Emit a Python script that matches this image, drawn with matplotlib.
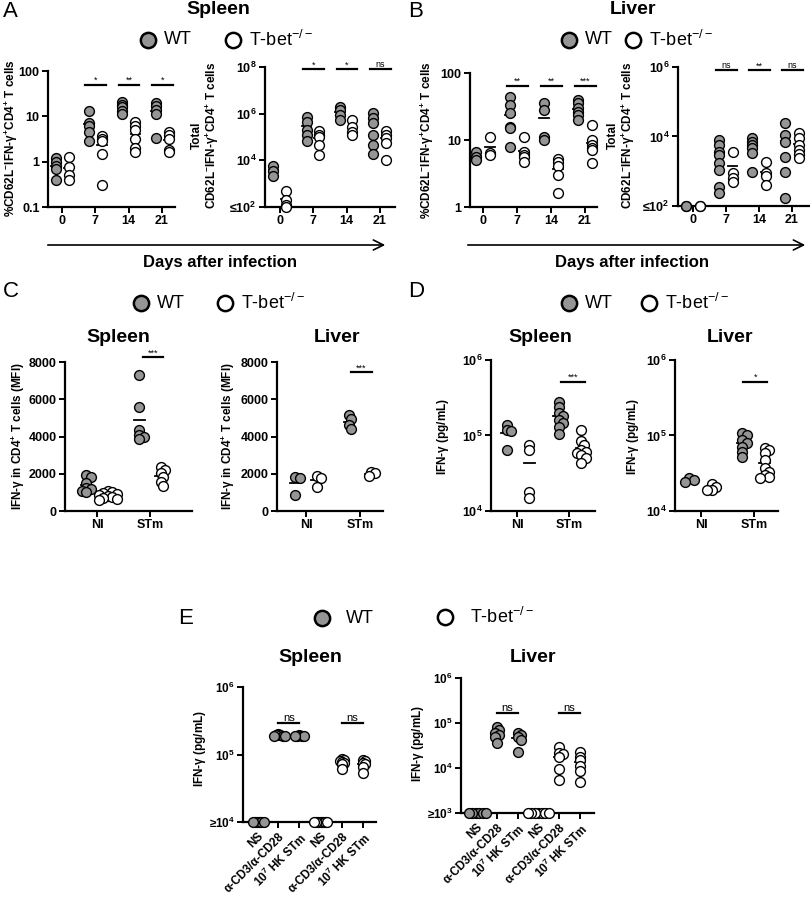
import numpy as np
import matplotlib.pyplot as plt
from matplotlib.ticker import FixedLocator, FixedFormatter, NullLocator
from matplotlib.patches import FancyArrowPatch

plt.rcParams['font.family'] = ['Liberation Sans', 'DejaVu Sans']
plt.rcParams['mathtext.default'] = 'regular'

W, H = 810, 905
GRAY = '#959595'
MS = 50  # marker area

# ---------------- data ----------------
days = ['0', '7', '14', '21']
# A: spleen
a_pct_wt = [[1.2, 1.0, 0.8, 0.7, 0.4], [13, 7.3, 6.0, 4.6, 2.8], [21, 18, 16, 13, 11], [20, 17, 14, 11, 3.4]]
a_pct_ko = [[1.3, 0.75, 0.5, 0.4], [3.6, 3.2, 2.8, 1.5, 0.31], [7.4, 6.0, 4.9, 3.1, 2.0, 1.6], [4.6, 3.8, 3.1, 1.85, 1.6]]
a_tot_wt = [[6000, 3500, 2200], [7.2e5, 4.4e5, 2e5, 1.2e5, 6.8e4], [2e6, 1.4e6, 9e5, 5.4e5],
            [1.07e6, 6.6e5, 4e5, 1.2e5, 4.6e4, 1.9e4]]
a_tot_ko = [[500, 200, 120, 100], [1.8e5, 1.2e5, 1e5, 4.6e4, 1.7e4], [5.4e5, 2.7e5, 1.6e5, 1.2e5],
            [1.8e5, 1.2e5, 9e4, 5.6e4, 1e4]]
a_pct_sig = ['', '*', '**', '*']
a_tot_sig = ['', '*', '*', 'ns']
# B: liver
b_pct_wt = [[6.6, 5.6, 5.0], [44, 33, 25, 15.6, 15, 7.9], [36, 28, 11, 10], [39, 36, 30, 26, 24, 20]]
b_pct_ko = [[11, 6.4, 6.0], [11, 6.6, 6.0, 5.6, 4.7], [5.2, 4.7, 4.1, 3.0, 1.6], [17, 10, 8.4, 7.6, 7.1, 4.5]]
b_tot_wt = [[100, 100], [7900, 5600, 3600, 2900, 1700, 1100, 350, 240], [9000, 6900, 5600, 4600, 3300, 950],
            [2.4e4, 1.1e4, 6900, 2600, 950, 170]]
b_tot_ko = [[100, 100], [3600, 890, 640, 490], [1800, 890, 730, 400], [1.26e4, 9000, 5600, 4100, 3100, 2400]]
b_pct_sig = ['', '**', '**', '***']
b_tot_sig = ['', 'ns', '**', 'ns']
# C: MFI
conds = ['NI', 'STm']
c_spl_wt = [[1950, 1800, 1500, 1250, 1200, 1100, 1000], [7300, 5580, 4350, 4100, 4000, 3850]]
c_spl_ko = [[1050, 1000, 950, 900, 850, 800, 750, 700, 650, 600], [2360, 2200, 2040, 1830, 1560, 1340]]
c_liv_wt = [[1830, 1770, 860], [5150, 4940, 4620, 4400]]
c_liv_ko = [[1880, 1770, 1290], [2090, 2040, 1880]]
# D: IFN-g secretion
d_spl_wt = [[1.38e5, 1.18e5, 1.15e5, 6.4e4], [2.8e5, 2.4e5, 2.0e5, 1.8e5, 1.6e5, 1.45e5, 1.3e5, 1.05e5]]
d_spl_ko = [[7.5e4, 6.4e4, 1.8e4, 1.5e4], [1.18e5, 8.5e4, 7.5e4, 6.5e4, 6.0e4, 5.8e4, 5.5e4, 5.0e4, 4.3e4]]
d_liv_wt = [[2.7e4, 2.6e4, 2.4e4], [1.08e5, 1.0e5, 8.7e4, 8.0e4, 7.1e4, 6.1e4, 5.2e4]]
d_liv_ko = [[2.3e4, 2.1e4, 1.9e4, 1.9e4], [6.9e4, 6.5e4, 5.9e4, 4.7e4, 3.7e4, 3.3e4, 3.0e4, 2.8e4, 2.7e4]]
# E: restimulation (first three columns WT, last three T-bet-/-)
e_labels = ['NS', 'α-CD3/α-CD28', '10$^{7}$ HK STm', 'NS', 'α-CD3/α-CD28', '10$^{7}$ HK STm']
e_spl_wt = [[1e4, 1e4, 1e4, 1e4, 1e4, 1e4], [2.0e5, 1.95e5, 1.95e5, 1.9e5, 1.9e5, 1.9e5],
            [1.95e5, 1.9e5, 1.9e5, 1.9e5, 1.85e5]]
e_spl_ko = [[1e4, 1e4, 1e4, 1e4, 1e4, 1e4, 1e4], [8.5e4, 8.2e4, 8e4, 7.8e4, 7.5e4, 7.2e4, 6.2e4],
            [8.3e4, 8e4, 7.6e4, 7.3e4, 6.5e4, 5.3e4]]
e_liv_wt = [[1e3, 1e3, 1e3, 1e3, 1e3, 1e3], [8.1e4, 6.9e4, 6e4, 5.4e4, 4.9e4, 3.6e4],
            [6e4, 5.5e4, 4.9e4, 4.2e4, 2.3e4]]
e_liv_ko = [[1e3, 1e3, 1e3, 1e3, 1e3, 1e3, 1e3], [2.9e4, 2.2e4, 2e4, 1.8e4, 9.5e3, 5.4e3],
            [2.3e4, 1.8e4, 1.5e4, 1.1e4, 8.6e3, 4.9e3]]


fig = plt.figure(figsize=(W / 100, H / 100), dpi=100)
ov = fig.add_axes([0, 0, 1, 1])
ov.set_xlim(0, W)
ov.set_ylim(H, 0)
ov.axis('off')


def make_ax(box, p0, sp, ylim, log, yticks, ylabels, xlabels, fs=9):
    l, t, r, b = box
    ax = fig.add_axes([l / W, 1 - b / H, (r - l) / W, (b - t) / H])
    ax.set_xlim((l - p0) / sp, (r - p0) / sp)
    if log:
        ax.set_yscale('log')
    ax.set_ylim(*ylim)
    ax.yaxis.set_major_locator(FixedLocator(yticks))
    ax.yaxis.set_major_formatter(FixedFormatter(ylabels))
    ax.yaxis.set_minor_locator(NullLocator())
    ax.set_xticks(range(len(xlabels)))
    ax.set_xticklabels(xlabels)
    for s in ['top', 'right']:
        ax.spines[s].set_visible(False)
    for s in ['left', 'bottom']:
        ax.spines[s].set_linewidth(1.6)
    ax.tick_params(width=1.4, length=4, labelsize=fs, pad=2)
    for tl in ax.get_xticklabels() + ax.get_yticklabels():
        tl.set_fontweight('bold')
    ax.patch.set_alpha(0)
    ax.info = dict(box=box, sp=sp, ylim=ylim, log=log)
    return ax


def swarm(ax, vals, d):
    # small horizontal offsets so that points closer than d pixels spread out
    if d == 0:
        return np.zeros(len(vals))
    l, t, r, b = ax.info['box']
    lo, hi = ax.info['ylim']
    if ax.info['log']:
        y = (np.log10(vals) - np.log10(lo)) / (np.log10(hi) - np.log10(lo)) * (b - t)
    else:
        y = (vals - lo) / (hi - lo) * (b - t)
    cand = [0]
    for k in range(1, 30):
        cand += [k, -k]
    placed, offs = [], []
    for yi in y:
        for c in cand:
            xo = c * d * 0.5
            if all((xo - px) ** 2 + (yi - py) ** 2 >= d ** 2 for px, py in placed):
                break
        placed.append((xo, yi))
        offs.append(xo / ax.info['sp'])
    return np.array(offs)


def dots(ax, centers, data, color, d=0, half=0.14):
    for c, vals in zip(centers, data):
        vals = np.asarray(vals, float)
        offs = swarm(ax, vals, d)
        ax.scatter(c + offs, vals, s=MS, facecolor=color, edgecolor='black', lw=1.0, zorder=3, clip_on=False)
        m = vals.mean()
        ax.plot([c - half, c + half], [m, m], color='black', lw=1.3, zorder=2, clip_on=False)


def sig(ax, x0, x1, y, s, fs=6.5):
    ax.plot([x0, x1], [y, y], color='black', lw=1.6, clip_on=False)
    ax.text((x0 + x1) / 2, y, s, ha='center', va='bottom', fontsize=fs, clip_on=False)


def legend_row(y, x_wt, x_ko, fs=13, ms=11):
    ov.plot([x_wt], [y], 'o', ms=ms, mfc=GRAY, mec='black', mew=1.8)
    ov.text(x_wt + 16, y, 'WT', fontsize=fs, va='center')
    ov.plot([x_ko], [y], 'o', ms=ms, mfc='white', mec='black', mew=1.8)
    ov.text(x_ko + 16, y, 'T-bet$^{-/-}$', fontsize=fs, va='center')


def ylab(x, y, s, fs=8.5):
    ov.text(x, y, s, rotation=90, ha='center', va='center', fontsize=fs, fontweight='bold', linespacing=1.0)


pct_lab = '%CD62L$^{-}$IFN-$\\gamma^{+}$CD4$^{+}$ T cells'
tot_lab = 'Total\nCD62L$^{-}$IFN-$\\gamma^{+}$CD4$^{+}$ T cells'
x4 = np.arange(4)

# ---------------- A ----------------
ax = make_ax((48, 71, 175, 207), 62, 33.3, (0.1, 100), True, [0.1, 1, 10, 100], ['0.1', '1', '10', '100'], days)
dots(ax, x4 - 0.19, a_pct_wt, GRAY)
dots(ax, x4 + 0.2, a_pct_ko, 'white')
for i, s in enumerate(a_pct_sig):
    if s:
        sig(ax, i - 0.3, i + 0.32, 50, s)
ylab(11, 138, pct_lab)

ax = make_ax((265, 67, 395, 207), 280, 33.3, (1e2, 1e8), True, [1e2, 1e4, 1e6, 1e8],
             ['≤10$^{2}$', '10$^{4}$', '10$^{6}$', '10$^{8}$'], days)
dots(ax, x4 - 0.2, a_tot_wt, GRAY)
dots(ax, x4 + 0.17, a_tot_ko, 'white')
for i, s in enumerate(a_tot_sig):
    if s:
        sig(ax, i - 0.3, i + 0.32, 8e7, s)
ylab(206, 135, tot_lab)

# ---------------- B ----------------
ax = make_ax((470, 73, 597, 207), 483, 34, (1, 100), True, [1, 10, 100], ['1', '10', '100'], days)
dots(ax, x4 - 0.2, b_pct_wt, GRAY)
dots(ax, x4 + 0.2, b_pct_ko, 'white')
for i, s in enumerate(b_pct_sig):
    if s:
        sig(ax, i - 0.3, i + 0.32, 65, s)
ylab(427, 140, pct_lab)

ax = make_ax((678, 67, 810, 206), 693, 33, (1e2, 1e6), True, [1e2, 1e4, 1e6],
             ['≤10$^{2}$', '10$^{4}$', '10$^{6}$'], days)
dots(ax, x4 - 0.2, b_tot_wt, GRAY)
dots(ax, x4 + 0.2, b_tot_ko, 'white')
for i, s in enumerate(b_tot_sig):
    if s:
        sig(ax, i - 0.3, i + 0.32, 8e5, s)
ylab(622, 135, tot_lab)

# headers A/B
ov.text(3, 1, 'A', fontsize=16, va='top')
ov.text(408, 1, 'B', fontsize=16, va='top')
ov.text(218, 10, 'Spleen', fontsize=14, fontweight='bold', ha='center', va='center')
ov.text(633, 10, 'Liver', fontsize=14, fontweight='bold', ha='center', va='center')
legend_row(40, 148, 233)
legend_row(40, 569, 633)
for x0, x1, xc in [(45, 388, 220), (465, 808, 632)]:
    ov.add_patch(FancyArrowPatch((x0, 245), (x1, 245), arrowstyle='->', mutation_scale=18, lw=1.2, color='black'))
    ov.text(xc, 262, 'Days after infection', fontsize=12, fontweight='bold', ha='center', va='center')

# ---------------- C ----------------
x2 = np.arange(2)
mfi_ticks = [0, 2000, 4000, 6000, 8000]
ax = make_ax((65, 362, 192, 511), 97, 53, (0, 8000), False, mfi_ticks, [str(v) for v in mfi_ticks], conds)
dots(ax, x2 - 0.2, c_spl_wt, GRAY, d=4.5, half=0.1)
dots(ax, x2 + 0.2, c_spl_ko, 'white', d=4.5, half=0.1)
sig(ax, 1 - 0.14, 1 + 0.25, 8250, '***')
ylab(18, 436, 'IFN-$\\gamma$ in CD4$^{+}$ T cells (MFI)')

ax = make_ax((277, 362, 383, 511), 306, 54, (0, 8000), False, mfi_ticks, [str(v) for v in mfi_ticks], conds)
dots(ax, x2 - 0.2, c_liv_wt, GRAY, d=4.5, half=0.1)
dots(ax, x2 + 0.2, c_liv_ko, 'white', d=4.5, half=0.1)
sig(ax, 1 - 0.17, 1 + 0.22, 7450, '***')
ylab(228, 436, 'IFN-$\\gamma$ in CD4$^{+}$ T cells (MFI)')

ov.text(3, 281, 'C', fontsize=16, va='top')
legend_row(303, 141, 225)
ov.text(118, 337, 'Spleen', fontsize=14, fontweight='bold', ha='center', va='center')
ov.text(337, 337, 'Liver', fontsize=14, fontweight='bold', ha='center', va='center')

# ---------------- D ----------------
pg_ticks = [1e4, 1e5, 1e6]
pg_labs = ['10$^{4}$', '10$^{5}$', '10$^{6}$']
ax = make_ax((491, 360, 595, 511), 517, 52, (1e4, 1e6), True, pg_ticks, pg_labs, conds)
dots(ax, x2 - 0.2, d_spl_wt, GRAY, d=4.5, half=0.1)
dots(ax, x2 + 0.24, d_spl_ko, 'white', d=4.5, half=0.1)
sig(ax, 1 - 0.15, 1 + 0.3, 5.1e5, '***')
ylab(443, 436, 'IFN-$\\gamma$ (pg/mL)')

ax = make_ax((675, 360, 778, 511), 701, 53, (1e4, 1e6), True, pg_ticks, pg_labs, conds)
dots(ax, x2 - 0.22, d_liv_wt, GRAY, d=4.5, half=0.1)
dots(ax, x2 + 0.2, d_liv_ko, 'white', d=4.5, half=0.1)
sig(ax, 1 - 0.2, 1 + 0.25, 5.1e5, '*')
ylab(633, 436, 'IFN-$\\gamma$ (pg/mL)')

ov.text(408, 281, 'D', fontsize=16, va='top')
legend_row(303, 569, 649)
ov.text(540, 337, 'Spleen', fontsize=14, fontweight='bold', ha='center', va='center')
ov.text(730, 337, 'Liver', fontsize=14, fontweight='bold', ha='center', va='center')

# ---------------- E ----------------
x6 = np.arange(6)
ax = make_ax((243, 687, 376, 822), 257, 21.2, (1e4, 1e6), True, pg_ticks,
             ['≥10$^{4}$', '10$^{5}$', '10$^{6}$'], e_labels, fs=8.5)
dots(ax, x6[:3], e_spl_wt, GRAY, d=2.2, half=0.25)
dots(ax, x6[3:], e_spl_ko, 'white', d=2.2, half=0.25)
sig(ax, 1, 2, 2.9e5, 'ns', fs=8)
sig(ax, 4, 5, 2.9e5, 'ns', fs=8)
ylab(200, 748, 'IFN-$\\gamma$ (pg/mL)')

ax = make_ax((461, 678, 594, 813), 476, 20.8, (1e3, 1e6), True, [1e3, 1e4, 1e5, 1e6],
             ['≥10$^{3}$', '10$^{4}$', '10$^{5}$', '10$^{6}$'], e_labels, fs=8.5)
dots(ax, x6[:3], e_liv_wt, GRAY, d=3.5, half=0.25)
dots(ax, x6[3:], e_liv_ko, 'white', d=3.5, half=0.25)
sig(ax, 1, 2, 1.7e5, 'ns', fs=8)
sig(ax, 4, 5, 1.7e5, 'ns', fs=8)
ylab(418, 743, 'IFN-$\\gamma$ (pg/mL)')

for a in fig.axes[-2:]:
    for tl in a.get_xticklabels():
        tl.set_rotation(45)
        tl.set_ha('right')
        tl.set_rotation_mode('anchor')

ov.text(178, 618, 'E', fontsize=16, va='center')
ov.plot([322], [618], 'o', ms=11, mfc=GRAY, mec='black', mew=1.8)
ov.text(346, 618, 'WT', fontsize=13, va='center')
ov.plot([445], [617], 'o', ms=11, mfc='white', mec='black', mew=1.8)
ov.text(470, 617, 'T-bet$^{-/-}$', fontsize=13, va='center')
ov.text(310, 657, 'Spleen', fontsize=14, fontweight='bold', ha='center', va='center')
ov.text(533, 657, 'Liver', fontsize=14, fontweight='bold', ha='center', va='center')

fig.savefig('out.png', dpi=100)
